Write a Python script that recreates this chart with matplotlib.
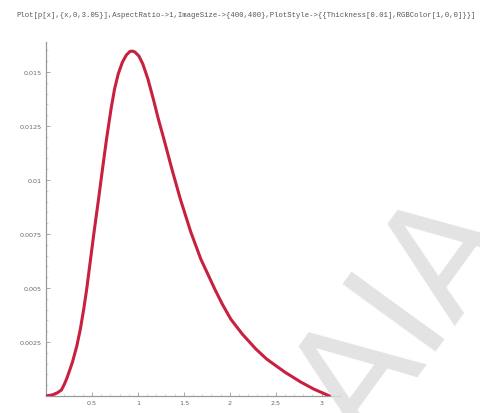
import matplotlib
matplotlib.use("Agg")
import matplotlib.pyplot as plt
from matplotlib.ticker import MultipleLocator

# Density curve sampled along the plotted range
x_vals = [0.0, 0.065, 0.120, 0.168, 0.201, 0.228, 0.255, 0.288, 0.335, 0.374,
          0.411, 0.443, 0.485, 0.523, 0.572, 0.615, 0.659, 0.708, 0.746, 0.786,
          0.832, 0.875, 0.913, 0.935, 0.967, 1.011, 1.054, 1.109, 1.168, 1.223,
          1.283, 1.370, 1.462, 1.576, 1.685, 1.837, 1.918, 2.011, 2.136, 2.283,
          2.402, 2.598, 2.772, 2.913, 3.087]
y_vals = [0.0, 0.000046, 0.000139, 0.000278, 0.000556, 0.000833, 0.00116,
          0.00157, 0.00231, 0.00310, 0.00403, 0.00495, 0.00634, 0.00759,
          0.00912, 0.01051, 0.01190, 0.01329, 0.01421, 0.01491, 0.01546,
          0.01579, 0.01595, 0.01597, 0.01593, 0.01574, 0.01537, 0.01468,
          0.01375, 0.01282, 0.01190, 0.01051, 0.00912, 0.00759, 0.00634,
          0.00495, 0.00426, 0.00356, 0.00287, 0.00218, 0.00171, 0.00111,
          0.000648, 0.000324, 0.0]

x_ticks = [0.5, 1, 1.5, 2, 2.5, 3]
x_labels = ["0.5", "1", "1.5", "2", "2.5", "3"]
y_ticks = [0.0025, 0.005, 0.0075, 0.01, 0.0125, 0.015]
y_labels = ["0.0025", "0.005", "0.0075", "0.01", "0.0125", "0.015"]

command = ("Plot[p[x],{x,0,3.05}],AspectRatio->1,ImageSize->{400,400},"
           "PlotStyle->{{Thickness[0.01],RGBColor[1,0,0]}}]")

fig = plt.figure(figsize=(4.8, 4.14), dpi=100)
fig.patch.set_facecolor("white")

fig.text(0.035, 0.962, command, family="Liberation Mono", fontsize=5.2,
         color="#555555", ha="left", va="center")

ax = fig.add_axes([46 / 480, 1 - 397 / 414, (340 - 46) / 480, (397 - 43) / 414])
ax.plot(x_vals, y_vals, color="#c8203f", lw=2.2, solid_capstyle="round",
        solid_joinstyle="round", zorder=3)

ax.set_xlim(0, 3.2)
ax.set_ylim(0, 0.01639)
for side in ("top", "right"):
    ax.spines[side].set_visible(False)
for side in ("left", "bottom"):
    ax.spines[side].set_color("#9a9a9a")
    ax.spines[side].set_linewidth(0.9)

ax.set_xticks(x_ticks)
ax.set_xticklabels(x_labels)
ax.set_yticks(y_ticks)
ax.set_yticklabels(y_labels)
ax.xaxis.set_minor_locator(MultipleLocator(0.1))
ax.yaxis.set_minor_locator(MultipleLocator(0.0005))
ax.tick_params(axis="both", which="major", direction="in", length=3,
               width=0.6, color="#9a9a9a", labelsize=4.6, labelcolor="#666666",
               pad=3)
ax.tick_params(axis="both", which="minor", direction="in", length=1.5,
               width=0.4, color="#b0b0b0")

# Faint diagonal watermark
fig.text(0.844, 0.232, "AIA", fontsize=112, color="#dedede", alpha=0.85,
         rotation=54, ha="center", va="center", family="DejaVu Sans",
         zorder=0)

fig.savefig("out.png", dpi=100)
